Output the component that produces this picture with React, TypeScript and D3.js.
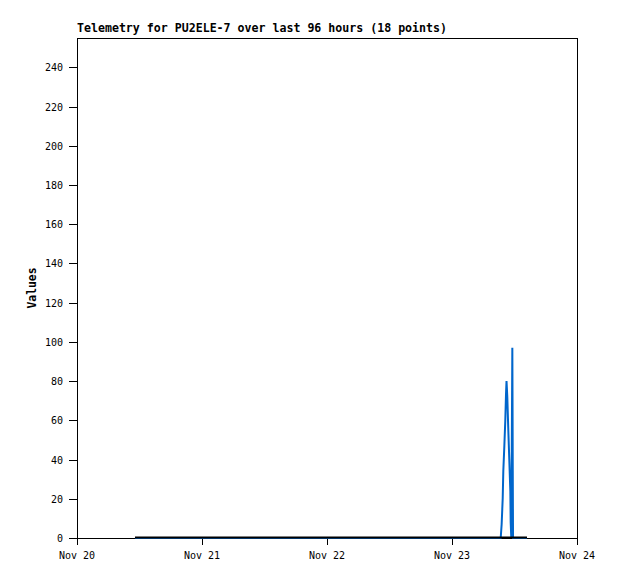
import React from "react";
import * as d3 from "d3";

const TITLE = "Telemetry for PU2ELE-7 over last 96 hours (18 points)";
const Y_LABEL = "Values";

// Sample timestamps (UTC) and values
const times = [
  "2024-11-20T11:08",
  "2024-11-23T09:21",
  "2024-11-23T09:32",
  "2024-11-23T09:44",
  "2024-11-23T09:51",
  "2024-11-23T10:03",
  "2024-11-23T10:14",
  "2024-11-23T10:22",
  "2024-11-23T10:28",
  "2024-11-23T10:37",
  "2024-11-23T10:48",
  "2024-11-23T11:00",
  "2024-11-23T11:12",
  "2024-11-23T11:16",
  "2024-11-23T11:23",
  "2024-11-23T11:35",
  "2024-11-23T11:43",
  "2024-11-23T14:24",
];
const blueValues = [0, 0, 7, 20, 34, 47, 60, 73, 80, 72, 56, 40, 24, 8, 0, 97, 0, 0];
const blackValues = [0, 0, 0, 0, 0, 0, 0, 0, 0, 0, 0, 0, 0, 0, 0, 0, 0, 0];

const xDomain = ["2024-11-20T00:00", "2024-11-24T00:00"];
const yTicks = [0, 20, 40, 60, 80, 100, 120, 140, 160, 180, 200, 220, 240];
const yMax = 255;

const W = 618;
const H = 579;
const M = { left: 77, right: 577, top: 38, bottom: 538 };

const parse = d3.utcParse("%Y-%m-%dT%H:%M");

export default function App() {
  const x = d3
    .scaleUtc()
    .domain(xDomain.map((s) => parse(s) as Date))
    .range([M.left, M.right]);
  const y = d3.scaleLinear().domain([0, yMax]).range([M.bottom, M.top]);
  const dates = times.map((s) => parse(s) as Date);
  const line = d3
    .line<[Date, number]>()
    .x((d) => x(d[0]))
    .y((d) => y(d[1]));
  const blue = line(dates.map((d, i) => [d, blueValues[i]]));
  const black = line(dates.map((d, i) => [d, blackValues[i]]));
  const xTicks = x.ticks(d3.utcDay.every(1) as any);
  const fmt = d3.utcFormat("%b %d");
  const mono = "'DejaVu Sans Mono', 'Liberation Mono', monospace";

  return (
    <svg
      width={W}
      height={H}
      style={{ position: "absolute", left: 0, top: 0, background: "#fff" }}
    >
      <rect x={0} y={0} width={W} height={H} fill="#fff" />
      <text
        x={M.left}
        y={32}
        fontFamily={mono}
        fontWeight="bold"
        fontSize={11.6}
        textLength={370}
        lengthAdjust="spacing"
        fill="#000"
      >
        {TITLE}
      </text>
      {/* frame */}
      <rect
        x={M.left + 0.5}
        y={M.top + 0.5}
        width={M.right - M.left}
        height={M.bottom - M.top}
        fill="none"
        stroke="#000"
        strokeWidth={1}
        shapeRendering="crispEdges"
      />
      {/* y ticks */}
      {yTicks.map((t) => (
        <g key={"y" + t}>
          <line
            x1={M.left - 8}
            x2={M.left}
            y1={Math.round(y(t)) + 0.5}
            y2={Math.round(y(t)) + 0.5}
            stroke="#000"
            shapeRendering="crispEdges"
          />
          <text
            x={63}
            y={y(t) + 4}
            textAnchor="end"
            fontFamily={mono}
            fontSize={10}
            fill="#000"
          >
            {t}
          </text>
        </g>
      ))}
      {/* x ticks */}
      {xTicks.map((t, i) => (
        <g key={"x" + i}>
          <line
            x1={Math.round(x(t)) + 0.5}
            x2={Math.round(x(t)) + 0.5}
            y1={M.bottom}
            y2={M.bottom + 7}
            stroke="#000"
            shapeRendering="crispEdges"
          />
          <text
            x={x(t)}
            y={559}
            textAnchor="middle"
            fontFamily={mono}
            fontSize={10}
            fill="#000"
          >
            {fmt(t)}
          </text>
        </g>
      ))}
      <text
        transform={`translate(36, ${(M.top + M.bottom) / 2}) rotate(-90)`}
        textAnchor="middle"
        fontFamily={mono}
        fontWeight="bold"
        fontSize={11.4}
        fill="#000"
      >
        {Y_LABEL}
      </text>
      <path d={blue || ""} fill="none" stroke="#0066cc" strokeWidth={2} />
      <path
        d={black || ""}
        fill="none"
        stroke="#000"
        strokeWidth={2}
        transform="translate(0,-0.5)"
      />
    </svg>
  );
}
